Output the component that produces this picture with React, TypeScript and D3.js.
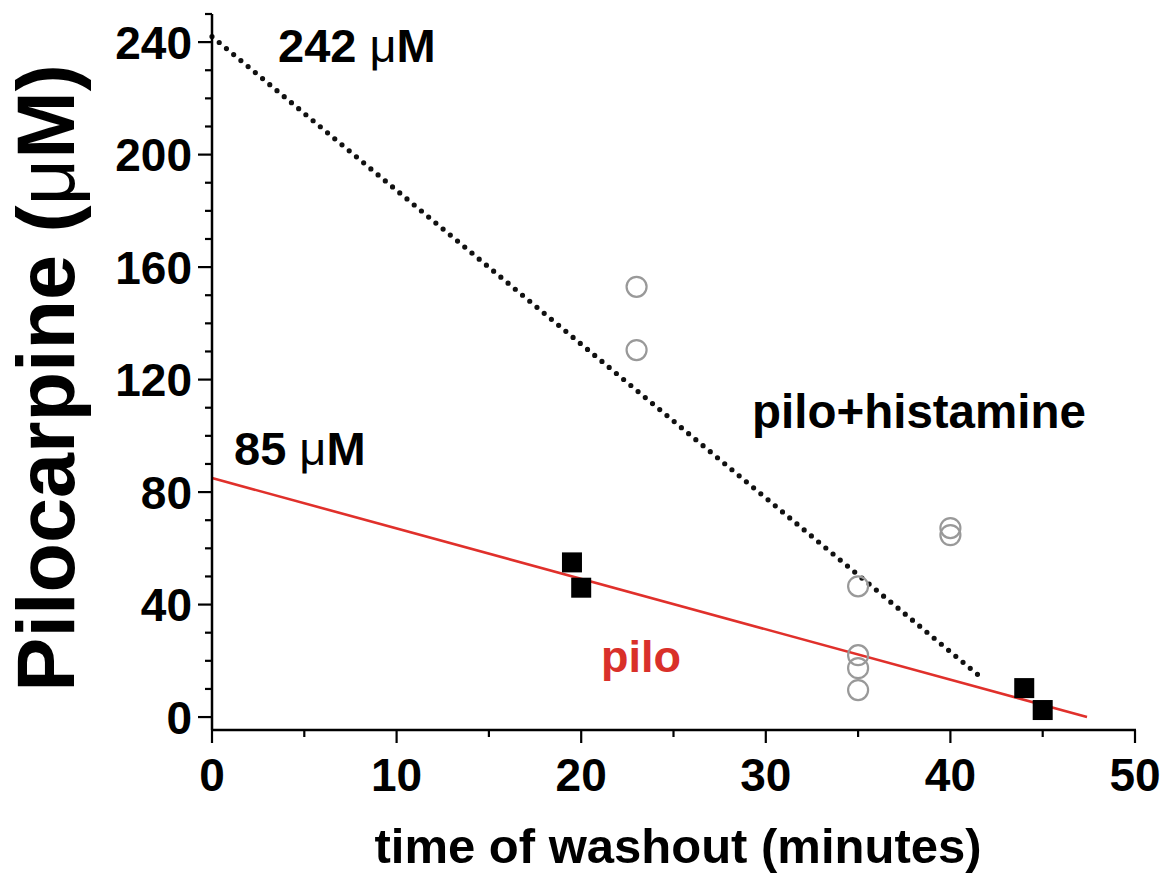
import React from "react";
import * as d3 from "d3";

// pilo alone (filled squares)
const piloTime = [19.5, 20, 44, 45];
const piloConc = [55, 46, 10.3, 2.5];

// pilo + histamine (open circles)
const histTime = [23, 23, 35, 35, 35, 35, 40, 40];
const histConc = [153, 130.5, 46.5, 22, 17.4, 9.6, 67.2, 64.7];

// fitted lines: [x0, y0, x1, y1]
const piloFit = [0, 85, 47.4, 0];
const histFit = [0, 242, 41.5, 15];

const xTicks = d3.range(0, 51, 5);
const yTicks = d3.range(0, 251, 10);

const W = 1176;
const H = 874;
const font = "'Liberation Sans', Arial, Helvetica, sans-serif";

const App = () => {
  const x = d3.scaleLinear().domain([0, 50]).range([212, 1135]);
  const y = d3.scaleLinear().domain([-4.6, 250]).range([730, 14]);
  const line = d3.line<[number, number]>().x(d => x(d[0])).y(d => y(d[1]));

  const x0 = x.range()[0];
  const yBase = y(-4.6);

  return (
    <svg width={W} height={H} style={{ position: "absolute", left: 0, top: 0, background: "#fff" }}
      fontFamily={font} fontWeight="bold">
      {/* fit lines */}
      <path d={line([[piloFit[0], piloFit[1]], [piloFit[2], piloFit[3]]]) || ""}
        stroke="#e0302b" strokeWidth={2.6} fill="none" />
      <path d={line([[histFit[0], histFit[1]], [histFit[2], histFit[3]]]) || ""}
        stroke="#111" strokeWidth={5.2} fill="none" strokeLinecap="round" strokeDasharray="0 9.4" />

      {/* open circles */}
      {histTime.map((t, i) => (
        <circle key={"c" + i} cx={x(t)} cy={y(histConc[i])} r={10}
          fill="none" stroke="#999" strokeWidth={2.2} />
      ))}
      {/* filled squares */}
      {piloTime.map((t, i) => (
        <rect key={"s" + i} x={x(t) - 10} y={y(piloConc[i]) - 10} width={20} height={20} fill="#000" />
      ))}

      {/* axes */}
      <line x1={x0} x2={x0} y1={y(250)} y2={yBase} stroke="#000" strokeWidth={2.5} />
      <line x1={x0 - 1} x2={x(50) + 1} y1={yBase} y2={yBase} stroke="#000" strokeWidth={2.5} />
      {yTicks.map(v => {
        const major = v % 40 === 0;
        return (
          <g key={"yt" + v}>
            <line x1={x0} x2={x0 - (major ? 14 : 7)} y1={y(v)} y2={y(v)} stroke="#000" strokeWidth={2.2} />
            {major && (
              <text x={x0 - 20} y={y(v)} dy="0.36em" textAnchor="end" fontSize={46}>{v}</text>
            )}
          </g>
        );
      })}
      {xTicks.map(v => {
        const major = v % 10 === 0;
        return (
          <g key={"xt" + v}>
            <line x1={x(v)} x2={x(v)} y1={yBase} y2={yBase + (major ? 13 : 7)} stroke="#000" strokeWidth={2.2} />
            {major && (
              <text x={x(v)} y={791} textAnchor="middle" fontSize={46}>{v}</text>
            )}
          </g>
        );
      })}

      {/* axis titles */}
      <text x={678} y={863} textAnchor="middle" fontSize={49}>time of washout (minutes)</text>
      <text transform="translate(74,378) rotate(-90)" textAnchor="middle" fontSize={81}>
        Pilocarpine (<tspan fontWeight="normal">μ</tspan>M)
      </text>

      {/* annotations */}
      <text x={278} y={62} fontSize={47}>242 <tspan fontWeight="normal">μ</tspan>M</text>
      <text x={234} y={465} fontSize={47}>85 <tspan fontWeight="normal">μ</tspan>M</text>
      <text x={752} y={428} fontSize={47.5}>pilo+histamine</text>
      <text x={601} y={672} fontSize={45} fill="#d9302a">pilo</text>
    </svg>
  );
};

export default App;
